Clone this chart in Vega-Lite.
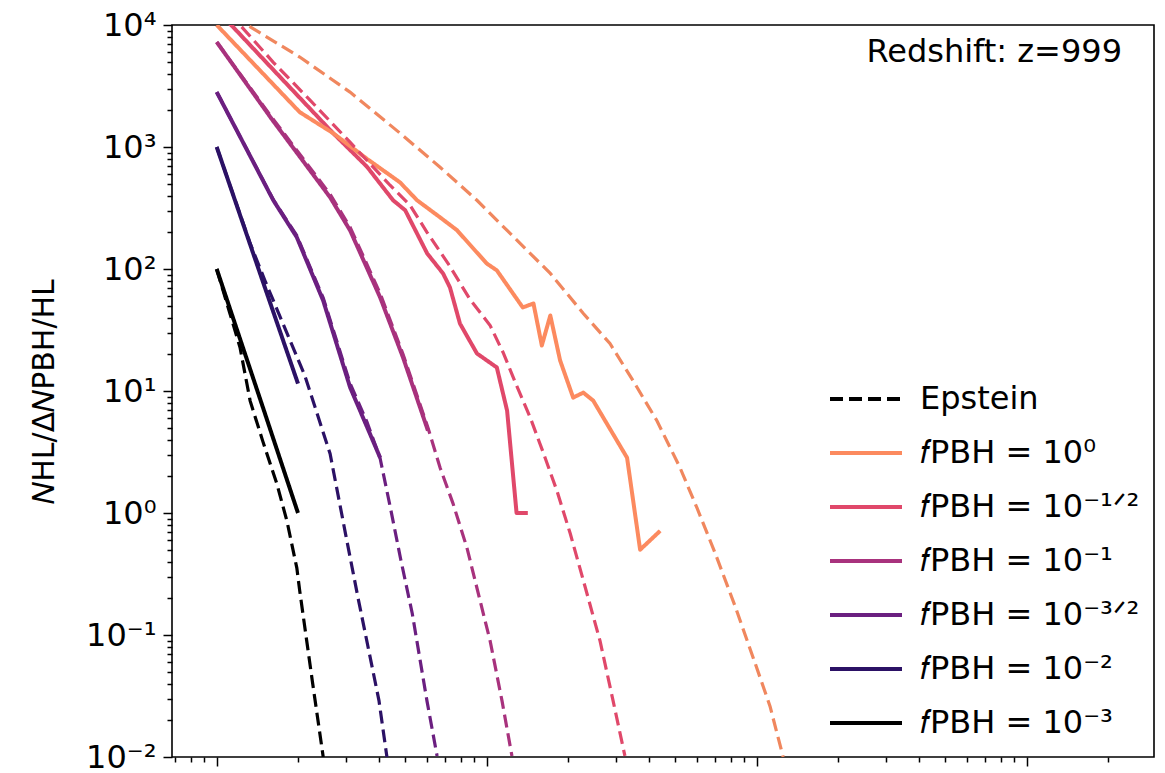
{
  "$schema": "https://vega.github.io/schema/vega-lite/v6.json",
  "width": 982,
  "height": 732,
  "autosize": {"type": "none"},
  "padding": {"left": 172, "top": 25, "right": 11, "bottom": 16},
  "background": "white",
  "config": {
    "font": "DejaVu Sans",
    "view": {"stroke": "black", "strokeWidth": 1.6}
  },
  "datasets": {
    "hl": [
      {"key": "f-3", "x": 1, "y": 100},
      {"key": "f-3", "x": 1.5, "y": 6.8},
      {"key": "f-3", "x": 2, "y": 1},

      {"key": "f-2", "x": 1, "y": 1000},
      {"key": "f-2", "x": 1.5, "y": 73},
      {"key": "f-2", "x": 2, "y": 11.5},

      {"key": "f-3/2", "x": 1, "y": 2820},
      {"key": "f-3/2", "x": 1.62, "y": 366},
      {"key": "f-3/2", "x": 1.98, "y": 182},
      {"key": "f-3/2", "x": 2.48, "y": 55},
      {"key": "f-3/2", "x": 3.12, "y": 10.7},
      {"key": "f-3/2", "x": 4.03, "y": 2.84},

      {"key": "f-1", "x": 1, "y": 7250},
      {"key": "f-1", "x": 1.6, "y": 1690},
      {"key": "f-1", "x": 2.63, "y": 387},
      {"key": "f-1", "x": 3.12, "y": 207},
      {"key": "f-1", "x": 4.03, "y": 58.5},
      {"key": "f-1", "x": 4.9, "y": 18.8},
      {"key": "f-1", "x": 6.06, "y": 4.73},

      {"key": "f-1/2", "x": 1, "y": 13000},
      {"key": "f-1/2", "x": 1.15, "y": 9630},
      {"key": "f-1/2", "x": 1.535, "y": 4875},
      {"key": "f-1/2", "x": 2.7, "y": 1297},
      {"key": "f-1/2", "x": 3.6, "y": 690},
      {"key": "f-1/2", "x": 4.5, "y": 366},
      {"key": "f-1/2", "x": 4.99, "y": 303},
      {"key": "f-1/2", "x": 6.02, "y": 134},
      {"key": "f-1/2", "x": 6.89, "y": 92},
      {"key": "f-1/2", "x": 7.31, "y": 70.6},
      {"key": "f-1/2", "x": 7.96, "y": 35.7},
      {"key": "f-1/2", "x": 9.2, "y": 20.3},
      {"key": "f-1/2", "x": 10.9, "y": 15.6},
      {"key": "f-1/2", "x": 11.9, "y": 6.9},
      {"key": "f-1/2", "x": 12.9, "y": 1},
      {"key": "f-1/2", "x": 14.2, "y": 1},

      {"key": "f0", "x": 1, "y": 10000},
      {"key": "f0", "x": 2.03, "y": 1930},
      {"key": "f0", "x": 2.7, "y": 1297},
      {"key": "f0", "x": 3.6, "y": 800},
      {"key": "f0", "x": 4.77, "y": 514},
      {"key": "f0", "x": 5.52, "y": 366},
      {"key": "f0", "x": 6.72, "y": 265},
      {"key": "f0", "x": 7.76, "y": 208},
      {"key": "f0", "x": 10, "y": 111},
      {"key": "f0", "x": 10.9, "y": 97.5},
      {"key": "f0", "x": 13.6, "y": 48.4},
      {"key": "f0", "x": 14.9, "y": 52.2},
      {"key": "f0", "x": 16, "y": 23.6},
      {"key": "f0", "x": 17.2, "y": 41.6},
      {"key": "f0", "x": 18.7, "y": 17.8},
      {"key": "f0", "x": 20.9, "y": 8.83},
      {"key": "f0", "x": 22.8, "y": 9.7},
      {"key": "f0", "x": 24.8, "y": 8.34},
      {"key": "f0", "x": 33.1, "y": 2.84},
      {"key": "f0", "x": 37, "y": 0.5},
      {"key": "f0", "x": 43.9, "y": 0.714}
    ],
    "ep": [
      {"g": "f-3", "x": 1, "y": 100},
      {"g": "f-3", "x": 1.12, "y": 43},
      {"g": "f-3", "x": 1.22, "y": 22.7},
      {"g": "f-3", "x": 1.33, "y": 8.3},
      {"g": "f-3", "x": 1.48, "y": 3.9},
      {"g": "f-3", "x": 1.67, "y": 1.74},
      {"g": "f-3", "x": 1.82, "y": 0.86},
      {"g": "f-3", "x": 1.98, "y": 0.355},
      {"g": "f-3", "x": 2.03, "y": 0.23},
      {"g": "f-3", "x": 2.26, "y": 0.042},
      {"g": "f-3", "x": 2.48, "y": 0.01},

      {"g": "f-2", "x": 1, "y": 1000},
      {"g": "f-2", "x": 1.33, "y": 162},
      {"g": "f-2", "x": 1.51, "y": 80},
      {"g": "f-2", "x": 2.12, "y": 13.4},
      {"g": "f-2", "x": 2.63, "y": 3.06},
      {"g": "f-2", "x": 3.0, "y": 0.675},
      {"g": "f-2", "x": 3.34, "y": 0.2},
      {"g": "f-2", "x": 3.99, "y": 0.029},
      {"g": "f-2", "x": 4.27, "y": 0.01},

      {"g": "f-3/2", "x": 1, "y": 2820},
      {"g": "f-3/2", "x": 1.62, "y": 370},
      {"g": "f-3/2", "x": 1.98, "y": 188},
      {"g": "f-3/2", "x": 2.48, "y": 58},
      {"g": "f-3/2", "x": 3.12, "y": 11.5},
      {"g": "f-3/2", "x": 3.6, "y": 5.6},
      {"g": "f-3/2", "x": 4.03, "y": 2.8},
      {"g": "f-3/2", "x": 4.4, "y": 1.1},
      {"g": "f-3/2", "x": 4.8, "y": 0.42},
      {"g": "f-3/2", "x": 5.3, "y": 0.15},
      {"g": "f-3/2", "x": 6.01, "y": 0.0287},
      {"g": "f-3/2", "x": 6.55, "y": 0.0102},

      {"g": "f-1", "x": 1, "y": 7250},
      {"g": "f-1", "x": 1.6, "y": 1750},
      {"g": "f-1", "x": 2.63, "y": 410},
      {"g": "f-1", "x": 3.12, "y": 220},
      {"g": "f-1", "x": 4.03, "y": 63},
      {"g": "f-1", "x": 4.9, "y": 20},
      {"g": "f-1", "x": 6.06, "y": 5.0},
      {"g": "f-1", "x": 6.72, "y": 2.35},
      {"g": "f-1", "x": 7.5, "y": 1.2},
      {"g": "f-1", "x": 8.45, "y": 0.518},
      {"g": "f-1", "x": 10.3, "y": 0.089},
      {"g": "f-1", "x": 11.4, "y": 0.0287},
      {"g": "f-1", "x": 12.4, "y": 0.0102},

      {"g": "f-1/2", "x": 1, "y": 16600},
      {"g": "f-1/2", "x": 1.22, "y": 10000},
      {"g": "f-1/2", "x": 1.617, "y": 4970},
      {"g": "f-1/2", "x": 2.216, "y": 2422},
      {"g": "f-1/2", "x": 3.117, "y": 1095},
      {"g": "f-1/2", "x": 4.385, "y": 486},
      {"g": "f-1/2", "x": 5.2, "y": 333},
      {"g": "f-1/2", "x": 6.01, "y": 200},
      {"g": "f-1/2", "x": 7.31, "y": 105},
      {"g": "f-1/2", "x": 8.67, "y": 56.3},
      {"g": "f-1/2", "x": 10.3, "y": 34.4},
      {"g": "f-1/2", "x": 11.5, "y": 20.7},
      {"g": "f-1/2", "x": 12.9, "y": 11.1},
      {"g": "f-1/2", "x": 14.5, "y": 6.05},
      {"g": "f-1/2", "x": 16.2, "y": 3.12},
      {"g": "f-1/2", "x": 18.2, "y": 1.52},
      {"g": "f-1/2", "x": 20.4, "y": 0.675},
      {"g": "f-1/2", "x": 23.1, "y": 0.252},
      {"g": "f-1/2", "x": 26.3, "y": 0.089},
      {"g": "f-1/2", "x": 29.4, "y": 0.0287},
      {"g": "f-1/2", "x": 32.5, "y": 0.0102},

      {"g": "f0", "x": 1, "y": 14000},
      {"g": "f0", "x": 1.295, "y": 10000},
      {"g": "f0", "x": 2.03, "y": 5460},
      {"g": "f0", "x": 3.117, "y": 2818},
      {"g": "f0", "x": 4.774, "y": 1298},
      {"g": "f0", "x": 6.72, "y": 683},
      {"g": "f0", "x": 9.2, "y": 366},
      {"g": "f0", "x": 11.9, "y": 207},
      {"g": "f0", "x": 17.2, "y": 92},
      {"g": "f0", "x": 22.8, "y": 43.2},
      {"g": "f0", "x": 28.6, "y": 24.5},
      {"g": "f0", "x": 34.8, "y": 12.2},
      {"g": "f0", "x": 42.7, "y": 5.7},
      {"g": "f0", "x": 52.0, "y": 2.35},
      {"g": "f0", "x": 60.1, "y": 1.1},
      {"g": "f0", "x": 70.1, "y": 0.471},
      {"g": "f0", "x": 83.1, "y": 0.173},
      {"g": "f0", "x": 98.6, "y": 0.0589},
      {"g": "f0", "x": 112, "y": 0.0261},
      {"g": "f0", "x": 125.3, "y": 0.01}
    ],
    "note": [
      {"label": "Redshift: z=999"}
    ]
  },
  "layer": [
    {
      "encoding": {
        "x": {
          "field": "x",
          "type": "quantitative",
          "scale": {"type": "log", "domain": [0.683, 2961], "nice": false},
          "axis": {
            "title": null,
            "labels": false,
            "grid": false,
            "domain": false,
            "values": [0.7, 0.8, 0.9, 1, 2, 3, 4, 5, 6, 7, 8, 9, 10, 20, 30, 40, 50, 60, 70, 80, 90, 100, 200, 300, 400, 500, 600, 700, 800, 900, 1000, 2000],
            "tickColor": "black",
            "tickWidth": 1.5,
            "tickSize": {"condition": {"test": "indexof([1, 10, 100, 1000], datum.value) >= 0", "value": 9}, "value": 5}
          }
        },
        "y": {
          "field": "y",
          "type": "quantitative",
          "scale": {"type": "log", "domain": [0.01, 10000], "nice": false},
          "axis": {
            "title": "𝑁HL/Δ𝑁PBH/HL",
            "titleFont": "DejaVu Sans",
            "titleFontSize": 30,
            "titleFontWeight": "normal",
            "titleColor": "black",
            "titleBaseline": "alphabetic",
            "titleX": -119,
            "titleY": 366,
            "grid": false,
            "domain": false,
            "values": [0.01, 0.02, 0.03, 0.04, 0.05, 0.06, 0.07, 0.08, 0.09, 0.1, 0.2, 0.3, 0.4, 0.5, 0.6, 0.7, 0.8, 0.9, 1, 2, 3, 4, 5, 6, 7, 8, 9, 10, 20, 30, 40, 50, 60, 70, 80, 90, 100, 200, 300, 400, 500, 600, 700, 800, 900, 1000, 2000, 3000, 4000, 5000, 6000, 7000, 8000, 9000, 10000],
            "labelExpr": "datum.value === 10000 ? '10⁴' : datum.value === 1000 ? '10³' : datum.value === 100 ? '10²' : datum.value === 10 ? '10¹' : datum.value === 1 ? '10⁰' : datum.value === 0.1 ? '10⁻¹' : datum.value === 0.01 ? '10⁻²' : ''",
            "labelFontSize": 32,
            "labelColor": "black",
            "labelPadding": 7,
            "labelOverlap": false,
            "labelFlush": false,
            "labelBound": false,
            "tickColor": "black",
            "tickWidth": 1.5,
            "tickSize": {"condition": {"test": "indexof([0.01, 0.1, 1, 10, 100, 1000, 10000], datum.value) >= 0", "value": 9}, "value": 5}
          }
        }
      },
      "layer": [
        {
          "data": {"name": "hl"},
          "mark": {"type": "line", "clip": true, "strokeWidth": 4, "strokeJoin": "round"},
          "encoding": {
            "color": {
              "field": "key",
              "type": "nominal",
              "scale": {
                "domain": ["Epstein", "f0", "f-1/2", "f-1", "f-3/2", "f-2", "f-3"],
                "range": ["#000000", "#fc8a5f", "#e0486a", "#a8327d", "#6b1f80", "#2b1165", "#000000"]
              },
              "legend": {
                "title": null,
                "orient": "none",
                "legendX": 656,
                "legendY": 336,
                "padding": 0,
                "symbolType": "stroke",
                "symbolSize": 5184,
                "symbolStrokeWidth": 4,
                "labelFontSize": 32,
                "labelFont": "DejaVu Sans",
                "labelColor": "black",
                "labelLimit": 400,
                "labelOffset": 16,
                "rowPadding": -20,
                "labelExpr": "datum.label === 'Epstein' ? 'Epstein' : datum.label === 'f0' ? '𝑓PBH = 10⁰' : datum.label === 'f-1/2' ? '𝑓PBH = 10⁻¹ᐟ²' : datum.label === 'f-1' ? '𝑓PBH = 10⁻¹' : datum.label === 'f-3/2' ? '𝑓PBH = 10⁻³ᐟ²' : datum.label === 'f-2' ? '𝑓PBH = 10⁻²' : '𝑓PBH = 10⁻³'"
              }
            },
            "strokeDash": {
              "field": "key",
              "type": "nominal",
              "scale": {
                "domain": ["Epstein", "f0", "f-1/2", "f-1", "f-3/2", "f-2", "f-3"],
                "range": [[13, 6], [1, 0], [1, 0], [1, 0], [1, 0], [1, 0], [1, 0]]
              }
            }
          }
        },
        {
          "data": {"name": "ep"},
          "mark": {"type": "line", "clip": true, "strokeWidth": 3.2},
          "encoding": {
            "color": {"datum": "Epstein", "type": "nominal"},
            "strokeDash": {"datum": "Epstein", "type": "nominal"},
            "stroke": {
              "field": "g",
              "type": "nominal",
              "scale": {
                "domain": ["f0", "f-1/2", "f-1", "f-3/2", "f-2", "f-3"],
                "range": ["#f0875e", "#e0486a", "#a8327d", "#6b1f80", "#2b1165", "#000000"]
              },
              "legend": null
            }
          }
        }
      ]
    },
    {
      "data": {"name": "note"},
      "mark": {"type": "text", "align": "right", "baseline": "alphabetic", "fontSize": 32, "font": "DejaVu Sans", "color": "black"},
      "encoding": {
        "x": {"datum": 2254, "type": "quantitative"},
        "y": {"datum": 4966, "type": "quantitative"},
        "text": {"field": "label", "type": "nominal"}
      }
    }
  ]
}
